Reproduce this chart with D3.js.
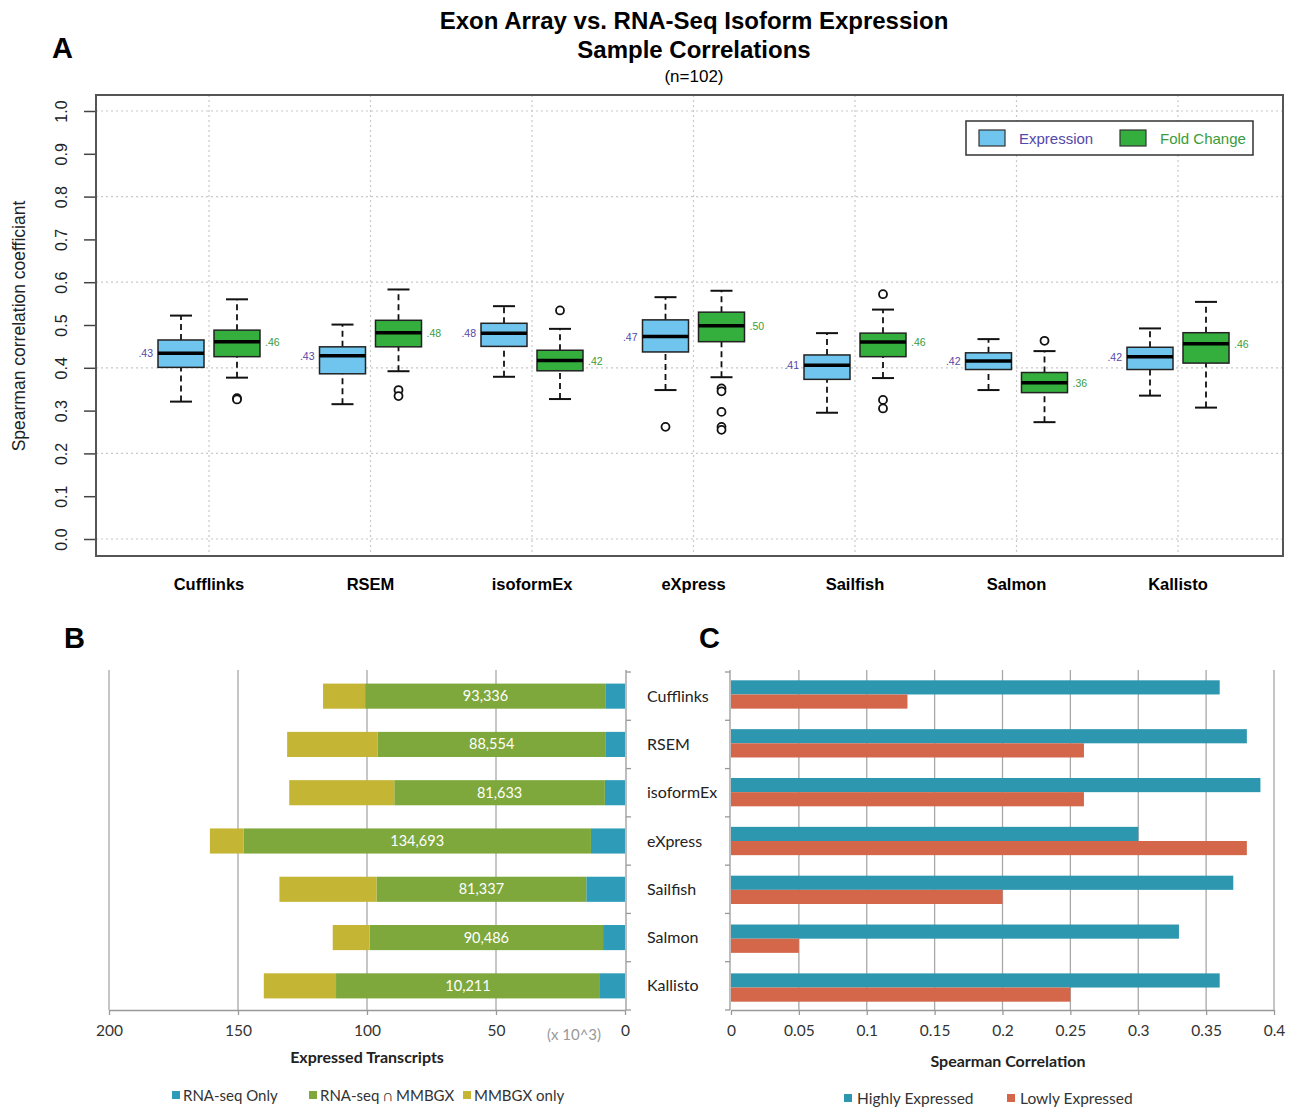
<!DOCTYPE html>
<html>
<head>
<meta charset="utf-8">
<script src="https://cdn.jsdelivr.net/npm/d3@7"></script>
<style>
  body { margin: 0; background: #fff; }
  svg { display: block; }
</style>
</head>
<body>
<div id="chart"></div>
<script>
// ---- data ----
var categories = ["Cufflinks", "RSEM", "isoformEx", "eXpress", "Sailfish", "Salmon", "Kallisto"];

// panel A : [whisker low, Q1, median, Q3, whisker high]
var exprBox = [
  [0.321, 0.401, 0.434, 0.465, 0.522],
  [0.315, 0.386, 0.428, 0.449, 0.501],
  [0.379, 0.450, 0.481, 0.504, 0.544],
  [0.348, 0.437, 0.473, 0.512, 0.565],
  [0.295, 0.373, 0.406, 0.430, 0.481],
  [0.348, 0.396, 0.416, 0.435, 0.467],
  [0.335, 0.396, 0.426, 0.448, 0.492]
];
var exprOutliers = [[], [], [], [0.262], [], [], []];
var exprLabels = [".43", ".43", ".48", ".47", ".41", ".42", ".42"];

var foldBox = [
  [0.377, 0.426, 0.461, 0.488, 0.560],
  [0.392, 0.449, 0.482, 0.511, 0.583],
  [0.327, 0.393, 0.417, 0.441, 0.491],
  [0.378, 0.461, 0.498, 0.530, 0.580],
  [0.376, 0.426, 0.460, 0.481, 0.536],
  [0.273, 0.342, 0.365, 0.389, 0.439],
  [0.307, 0.411, 0.456, 0.482, 0.554]
];
var foldOutliers = [[0.329, 0.326], [0.348, 0.334], [0.534], [0.352, 0.345, 0.297, 0.262, 0.255], [0.572, 0.325, 0.305], [0.463], []];
var foldLabels = [".46", ".48", ".42", ".50", ".46", ".36", ".46"];

var yTicksA = [0, 0.1, 0.2, 0.3, 0.4, 0.5, 0.6, 0.7, 0.8, 0.9, 1.0];

// panel B (thousands of transcripts)
var rnaseqOnly = [7.4, 7.4, 7.8, 13.2, 15.0, 8.5, 9.7];
var overlap = [93.336, 88.554, 81.633, 134.693, 81.337, 90.486, 102.3];
var overlapLabels = ["93,336", "88,554", "81,633", "134,693", "81,337", "90,486", "10,211"];
var mmbgxOnly = [16.3, 35.0, 40.7, 13.0, 37.6, 14.3, 28.0];
var xTicksB = [200, 150, 100, 50, 0];

// panel C
var highlyExpressed = [0.36, 0.38, 0.39, 0.30, 0.37, 0.33, 0.36];
var lowlyExpressed = [0.13, 0.26, 0.26, 0.38, 0.20, 0.05, 0.25];
var xTicksC = [0, 0.05, 0.1, 0.15, 0.2, 0.25, 0.3, 0.35, 0.4];

// ---- colours ----
var cExpr = "#6fc5ee", cFold = "#34ae3d";
var cExprText = "#5448a8", cFoldText = "#3a9c3a";
var cOnly = "#2e9bb8", cOverlap = "#7ea83c", cMmbgx = "#c4b534";
var cHigh = "#2e97b0", cLow = "#d4664a";
var fontA = "'Liberation Sans', Arial, sans-serif";
var fontB = "Lato, 'Open Sans', sans-serif";

var svg = d3.select("#chart").append("svg")
  .attr("width", 1295).attr("height", 1107)
  .attr("xmlns", "http://www.w3.org/2000/svg");

// ================= panel A =================
var gA = svg.append("g").style("font-family", fontA);

gA.append("text").attr("x", 52).attr("y", 58)
  .style("font-size", "29px").style("font-weight", "bold").text("A");
gA.append("text").attr("x", 694).attr("y", 29).attr("text-anchor", "middle")
  .style("font-size", "24px").style("font-weight", "bold")
  .text("Exon Array vs. RNA-Seq Isoform Expression");
gA.append("text").attr("x", 694).attr("y", 58).attr("text-anchor", "middle")
  .style("font-size", "24px").style("font-weight", "bold")
  .text("Sample Correlations");
gA.append("text").attr("x", 694).attr("y", 82).attr("text-anchor", "middle")
  .style("font-size", "17px").text("(n=102)");

var xA = d3.scalePoint().domain(categories).range([209, 1178]);
var yA = d3.scaleLinear().domain([0, 1]).range([539, 111]);
var boxLeft = 96, boxRight = 1283, boxTop = 95, boxBottom = 556;

// dotted grid
gA.append("g").selectAll("line.h").data([0, 0.2, 0.4, 0.6, 0.8, 1.0]).enter()
  .append("line")
  .attr("x1", boxLeft).attr("x2", boxRight)
  .attr("y1", function(d) { return yA(d); }).attr("y2", function(d) { return yA(d); })
  .attr("stroke", "#c8c8c8").attr("stroke-width", 1.2).attr("stroke-dasharray", "2,3");
gA.append("g").selectAll("line.v").data(categories).enter()
  .append("line")
  .attr("x1", function(d) { return xA(d); }).attr("x2", function(d) { return xA(d); })
  .attr("y1", boxTop).attr("y2", boxBottom)
  .attr("stroke", "#c8c8c8").attr("stroke-width", 1.2).attr("stroke-dasharray", "2,3");

gA.append("rect").attr("x", boxLeft).attr("y", boxTop)
  .attr("width", boxRight - boxLeft).attr("height", boxBottom - boxTop)
  .attr("fill", "none").attr("stroke", "#555").attr("stroke-width", 2);

// y axis
var axA = gA.append("g").attr("transform", "translate(" + (boxLeft - 1) + ",0)")
  .call(d3.axisLeft(yA).tickValues(yTicksA).tickSize(11).tickFormat(d3.format(".1f")));
axA.select(".domain").remove();
axA.selectAll("line").attr("stroke", "#444").attr("stroke-width", 1.5);
axA.selectAll(".tick text")
  .attr("x", null).attr("y", 0).attr("dy", "0.35em")
  .attr("transform", "translate(-34,0) rotate(-90)")
  .attr("text-anchor", "middle")
  .style("font-size", "16px").style("font-family", fontA).attr("fill", "#222");

gA.append("text").attr("transform", "translate(25,326) rotate(-90)")
  .attr("text-anchor", "middle").style("font-size", "17.5px").attr("fill", "#222")
  .text("Spearman correlation coefficiant");

// category labels
gA.append("g").selectAll("text").data(categories).enter()
  .append("text")
  .attr("x", function(d) { return xA(d); }).attr("y", 590)
  .attr("text-anchor", "middle").style("font-size", "16.5px").style("font-weight", "bold")
  .text(function(d) { return d; });

function drawBoxes(stats, outliers, labels, offset, fill, labelColor, labelSide) {
  var bw = 46, cap = 22;
  var g = gA.append("g");
  stats.forEach(function(s, i) {
    var cx = xA(categories[i]) + offset;
    // whiskers
    g.append("line").attr("x1", cx).attr("x2", cx).attr("y1", yA(s[0])).attr("y2", yA(s[1]))
      .attr("stroke", "#111").attr("stroke-width", 1.8).attr("stroke-dasharray", "6,4");
    g.append("line").attr("x1", cx).attr("x2", cx).attr("y1", yA(s[3])).attr("y2", yA(s[4]))
      .attr("stroke", "#111").attr("stroke-width", 1.8).attr("stroke-dasharray", "6,4");
    [s[0], s[4]].forEach(function(v) {
      g.append("line").attr("x1", cx - cap / 2).attr("x2", cx + cap / 2)
        .attr("y1", yA(v)).attr("y2", yA(v))
        .attr("stroke", "#111").attr("stroke-width", 2);
    });
    g.append("rect").attr("x", cx - bw / 2).attr("y", yA(s[3]))
      .attr("width", bw).attr("height", yA(s[1]) - yA(s[3]))
      .attr("fill", fill).attr("stroke", "#222").attr("stroke-width", 1.5);
    g.append("line").attr("x1", cx - bw / 2).attr("x2", cx + bw / 2)
      .attr("y1", yA(s[2])).attr("y2", yA(s[2]))
      .attr("stroke", "#000").attr("stroke-width", 3.5);
    outliers[i].forEach(function(v) {
      g.append("circle").attr("cx", cx).attr("cy", yA(v)).attr("r", 4)
        .attr("fill", "#fff").attr("stroke", "#111").attr("stroke-width", 1.8);
    });
    g.append("text")
      .attr("x", labelSide < 0 ? cx - bw / 2 - 5 : cx + bw / 2 + 5)
      .attr("y", yA(s[2]) + 4)
      .attr("text-anchor", labelSide < 0 ? "end" : "start")
      .style("font-size", "10.5px").attr("fill", labelColor)
      .text(labels[i]);
  });
}
drawBoxes(exprBox, exprOutliers, exprLabels, -28, cExpr, cExprText, -1);
drawBoxes(foldBox, foldOutliers, foldLabels, 28, cFold, cFoldText, 1);

// legend A
var legA = gA.append("g");
legA.append("rect").attr("x", 966).attr("y", 121).attr("width", 287).attr("height", 34)
  .attr("fill", "#fff").attr("stroke", "#333").attr("stroke-width", 1.5);
legA.append("rect").attr("x", 979).attr("y", 130).attr("width", 26).attr("height", 16)
  .attr("fill", cExpr).attr("stroke", "#333").attr("stroke-width", 1.2);
legA.append("text").attr("x", 1019).attr("y", 144).style("font-size", "15px")
  .attr("fill", cExprText).text("Expression");
legA.append("rect").attr("x", 1120).attr("y", 130).attr("width", 26).attr("height", 16)
  .attr("fill", cFold).attr("stroke", "#333").attr("stroke-width", 1.2);
legA.append("text").attr("x", 1160).attr("y", 144).style("font-size", "15px")
  .attr("fill", cFoldText).text("Fold Change");

// ================= panel B =================
var gB = svg.append("g").style("font-family", fontB);
var plotTop = 670, plotBottom = 1010;

gB.append("text").attr("x", 64).attr("y", 648).style("font-family", fontA)
  .style("font-size", "29px").style("font-weight", "bold").text("B");

var xB = d3.scaleLinear().domain([0, 200]).range([625, 109]);
var yB = d3.scaleBand().domain(categories).range([672, 1010]).paddingInner(0.48).paddingOuter(0.24);

gB.append("g").selectAll("line").data(xTicksB.filter(function(d) { return d > 0; })).enter()
  .append("line")
  .attr("x1", function(d) { return xB(d); }).attr("x2", function(d) { return xB(d); })
  .attr("y1", plotTop).attr("y2", plotBottom)
  .attr("stroke", "#a8a8a8").attr("stroke-width", 1.3);

var rowsB = gB.append("g").selectAll("g").data(categories).enter().append("g")
  .attr("transform", function(d) { return "translate(0," + yB(d) + ")"; });
rowsB.append("rect")
  .attr("x", function(d, i) { return xB(rnaseqOnly[i]); })
  .attr("width", function(d, i) { return xB(0) - xB(rnaseqOnly[i]); })
  .attr("height", yB.bandwidth()).attr("fill", cOnly);
rowsB.append("rect")
  .attr("x", function(d, i) { return xB(rnaseqOnly[i] + overlap[i]); })
  .attr("width", function(d, i) { return xB(rnaseqOnly[i]) - xB(rnaseqOnly[i] + overlap[i]); })
  .attr("height", yB.bandwidth()).attr("fill", cOverlap);
rowsB.append("rect")
  .attr("x", function(d, i) { return xB(rnaseqOnly[i] + overlap[i] + mmbgxOnly[i]); })
  .attr("width", function(d, i) { return xB(rnaseqOnly[i] + overlap[i]) - xB(rnaseqOnly[i] + overlap[i] + mmbgxOnly[i]); })
  .attr("height", yB.bandwidth()).attr("fill", cMmbgx);
rowsB.append("text")
  .attr("x", function(d, i) { return xB(rnaseqOnly[i] + overlap[i] / 2); })
  .attr("y", yB.bandwidth() / 2).attr("dy", "0.35em").attr("text-anchor", "middle")
  .style("font-size", "14.5px").attr("fill", "#fff")
  .text(function(d, i) { return overlapLabels[i]; });

// axes B
var axBx = gB.append("g").attr("transform", "translate(0," + plotBottom + ")")
  .call(d3.axisBottom(xB).tickValues(xTicksB).tickSize(5).tickSizeOuter(0).tickPadding(10));
axBx.select(".domain").attr("stroke", "#999").attr("stroke-width", 1.3);
axBx.selectAll("line").attr("stroke", "#999").attr("stroke-width", 1.3);
axBx.selectAll("text").style("font-size", "15.5px").style("font-family", fontB).attr("fill", "#333");
gB.append("text").attr("x", 574).attr("y", 1040).attr("text-anchor", "middle")
  .style("font-size", "15px").attr("fill", "#999").text("(x 10^3)");

var bandEdges = categories.map(function(d) { return yB(d) - yB.step() * yB.paddingInner() / 2; });
bandEdges.push(1010);
gB.append("line").attr("x1", 626).attr("x2", 626).attr("y1", plotTop).attr("y2", plotBottom)
  .attr("stroke", "#999").attr("stroke-width", 1.3);
gB.append("g").selectAll("line").data(bandEdges).enter().append("line")
  .attr("x1", 626).attr("x2", 631)
  .attr("y1", function(d) { return d; }).attr("y2", function(d) { return d; })
  .attr("stroke", "#999").attr("stroke-width", 1.3);

gB.append("text").attr("x", 367).attr("y", 1063).attr("text-anchor", "middle")
  .style("font-size", "16px").style("font-weight", "bold").attr("fill", "#222")
  .text("Expressed Transcripts");

var legBItems = [
  { label: "RNA-seq Only", color: cOnly, x: 172 },
  { label: "RNA-seq \u2229 MMBGX", color: cOverlap, x: 309 },
  { label: "MMBGX only", color: cMmbgx, x: 463 }
];
var legB = gB.append("g").selectAll("g").data(legBItems).enter().append("g")
  .attr("transform", function(d) { return "translate(" + d.x + ",1091)"; });
legB.append("rect").attr("width", 8).attr("height", 8).attr("fill", function(d) { return d.color; });
legB.append("text").attr("x", 11).attr("y", 10).style("font-size", "15px").attr("fill", "#333")
  .text(function(d) { return d.label; });

// ================= panel C =================
var gC = svg.append("g").style("font-family", fontB);
gC.append("text").attr("x", 699).attr("y", 648).style("font-family", fontA)
  .style("font-size", "29px").style("font-weight", "bold").text("C");

var xC = d3.scaleLinear().domain([0, 0.4]).range([731, 1274]);
var yC = d3.scaleBand().domain(categories).range([672, 1010]).paddingInner(0.42).paddingOuter(0.17);
var ySub = d3.scaleBand().domain(["high", "low"]).range([0, yC.bandwidth()]);

gC.append("g").selectAll("line").data(xTicksC.filter(function(d) { return d > 0; })).enter()
  .append("line")
  .attr("x1", function(d) { return xC(d); }).attr("x2", function(d) { return xC(d); })
  .attr("y1", plotTop).attr("y2", plotBottom)
  .attr("stroke", "#a8a8a8").attr("stroke-width", 1.3);

var rowsC = gC.append("g").selectAll("g").data(categories).enter().append("g")
  .attr("transform", function(d) { return "translate(0," + yC(d) + ")"; });
rowsC.append("rect").attr("x", xC(0)).attr("y", ySub("high"))
  .attr("width", function(d, i) { return xC(highlyExpressed[i]) - xC(0); })
  .attr("height", ySub.bandwidth()).attr("fill", cHigh);
rowsC.append("rect").attr("x", xC(0)).attr("y", ySub("low"))
  .attr("width", function(d, i) { return xC(lowlyExpressed[i]) - xC(0); })
  .attr("height", ySub.bandwidth()).attr("fill", cLow);

gC.append("g").selectAll("text").data(categories).enter().append("text")
  .attr("x", 647).attr("y", function(d) { return yB(d) + yB.bandwidth() / 2; })
  .attr("dy", "0.35em").style("font-size", "16px").attr("fill", "#222")
  .text(function(d) { return d; });

var axCx = gC.append("g").attr("transform", "translate(0," + plotBottom + ")")
  .call(d3.axisBottom(xC).tickValues(xTicksC).tickSize(5).tickSizeOuter(0).tickPadding(10)
    .tickFormat(function(d) { return d === 0 ? "0" : String(d); }));
axCx.select(".domain").attr("stroke", "#999").attr("stroke-width", 1.3);
axCx.selectAll("line").attr("stroke", "#999").attr("stroke-width", 1.3);
axCx.selectAll("text").style("font-size", "15.5px").style("font-family", fontB).attr("fill", "#333");

gC.append("line").attr("x1", 730).attr("x2", 730).attr("y1", plotTop).attr("y2", plotBottom)
  .attr("stroke", "#999").attr("stroke-width", 1.3);
gC.append("g").selectAll("line").data(bandEdges).enter().append("line")
  .attr("x1", 725).attr("x2", 730)
  .attr("y1", function(d) { return d; }).attr("y2", function(d) { return d; })
  .attr("stroke", "#999").attr("stroke-width", 1.3);

gC.append("text").attr("x", 1008).attr("y", 1067).attr("text-anchor", "middle")
  .style("font-size", "16px").style("font-weight", "bold").attr("fill", "#222")
  .text("Spearman Correlation");

var legCItems = [
  { label: "Highly Expressed", color: cHigh, x: 844 },
  { label: "Lowly Expressed", color: cLow, x: 1007 }
];
var legC = gC.append("g").selectAll("g").data(legCItems).enter().append("g")
  .attr("transform", function(d) { return "translate(" + d.x + ",1094)"; });
legC.append("rect").attr("width", 8).attr("height", 8).attr("fill", function(d) { return d.color; });
legC.append("text").attr("x", 13).attr("y", 10).style("font-size", "15.5px").attr("fill", "#333")
  .text(function(d) { return d.label; });
</script>
</body>
</html>
